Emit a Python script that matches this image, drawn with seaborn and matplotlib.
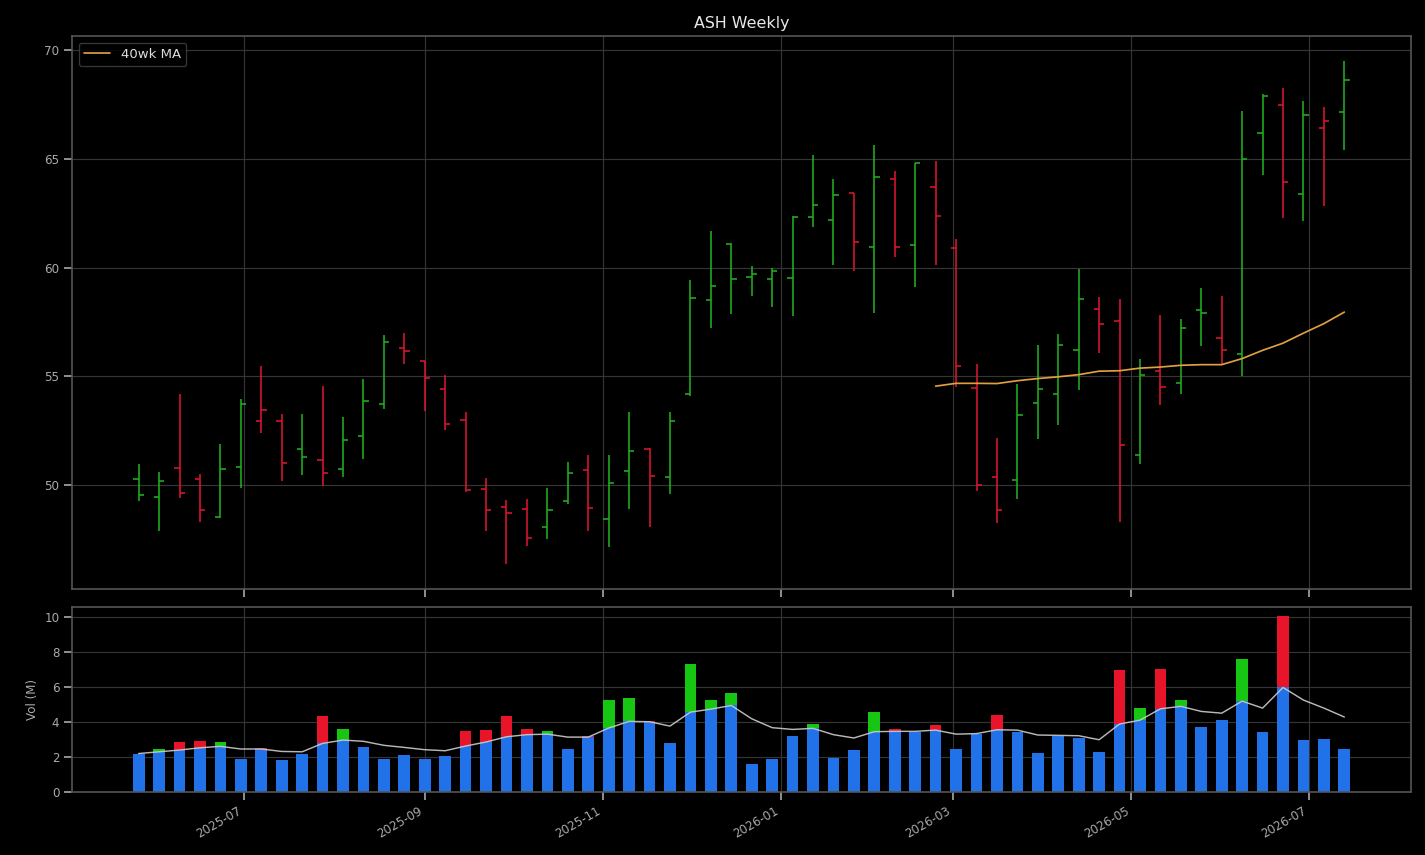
import pandas as pd
import numpy as np
import matplotlib
matplotlib.use("Agg")
import matplotlib.pyplot as plt
import matplotlib.dates as mdates
import seaborn as sns

# weekly bars, one per monday
weeks = pd.date_range("2025-05-26", periods=60, freq="7D")

opens = [50.26, 49.42, 50.77, 50.26, 48.50, 50.81, 52.93, 52.93, 51.65, 51.15,
         50.71, 52.24, 53.70, 56.30, 55.68, 54.39, 52.98, 49.80, 48.99, 48.88,
         48.04, 49.24, 50.67, 48.42, 50.63, 51.65, 50.35, 54.16, 58.51, 61.09,
         59.56, 59.48, 59.53, 62.33, 62.20, 63.43, 60.95, 64.09, 61.05, 63.71,
         60.90, 54.46, 50.35, 50.21, 53.75, 54.16, 56.21, 58.08, 57.52, 51.35,
         55.23, 54.67, 58.03, 56.78, 56.01, 66.20, 67.50, 63.38, 66.43, 67.15]
highs = [50.97, 50.61, 54.20, 50.48, 51.88, 53.97, 55.45, 53.24, 53.28, 54.53,
         53.14, 54.89, 56.88, 57.01, 55.71, 55.04, 53.33, 50.33, 49.28, 49.33,
         49.87, 51.07, 51.35, 51.35, 53.33, 51.71, 53.37, 59.42, 61.67, 61.12,
         60.06, 59.99, 62.39, 65.18, 64.07, 63.45, 65.64, 64.44, 64.83, 64.90,
         61.31, 55.55, 52.17, 54.66, 56.42, 56.96, 59.93, 58.63, 58.54, 55.81,
         57.80, 57.65, 59.04, 58.67, 67.21, 67.99, 68.26, 67.66, 67.38, 69.51]
lows = [49.24, 47.88, 49.39, 48.29, 48.45, 49.85, 52.37, 50.15, 50.43, 49.93,
        50.35, 51.18, 53.49, 55.56, 53.39, 52.52, 49.65, 47.88, 46.36, 47.17,
        47.50, 49.11, 47.88, 47.14, 48.88, 48.04, 49.57, 54.10, 57.21, 57.87,
        58.69, 58.18, 57.77, 61.87, 60.12, 59.84, 57.90, 60.49, 59.10, 60.12,
        54.49, 49.70, 48.22, 49.34, 52.11, 52.75, 54.36, 56.06, 48.27, 50.95,
        53.67, 54.18, 56.39, 55.58, 55.00, 64.27, 62.28, 62.15, 62.84, 65.42]
closes = [49.52, 50.16, 49.60, 48.83, 50.71, 53.72, 53.44, 51.02, 51.27, 50.53,
          52.06, 53.85, 56.57, 56.14, 54.91, 52.78, 49.74, 48.83, 48.68, 47.55,
          48.86, 50.53, 48.93, 50.07, 51.55, 50.40, 52.93, 58.61, 59.15, 59.48,
          59.70, 59.84, 62.33, 62.89, 63.35, 61.18, 64.17, 60.95, 64.81, 62.38,
          55.45, 49.98, 48.83, 53.19, 54.39, 56.44, 58.54, 57.39, 51.83, 55.04,
          54.49, 57.21, 57.90, 56.21, 65.00, 67.89, 63.93, 67.02, 66.74, 68.65]

# 40 week moving average (only defined for the last 21 weeks)
ma40 = [54.54, 54.67, 54.67, 54.66, 54.79, 54.89, 54.97, 55.07, 55.23, 55.25,
        55.37, 55.42, 55.50, 55.53, 55.53, 55.81, 56.19, 56.52, 56.98, 57.42,
        57.95]

# volume in millions and its moving average
volume = [2.19, 2.48, 2.88, 2.93, 2.88, 1.90, 2.51, 1.85, 2.19, 4.36,
          3.62, 2.59, 1.90, 2.13, 1.90, 2.08, 3.50, 3.56, 4.36, 3.62,
          3.50, 2.48, 3.22, 5.28, 5.39, 4.08, 2.82, 7.33, 5.28, 5.68,
          1.62, 1.90, 3.22, 3.90, 1.96, 2.42, 4.59, 3.62, 3.45, 3.85,
          2.48, 3.33, 4.42, 3.45, 2.25, 3.22, 3.10, 2.30, 6.99, 4.82,
          7.05, 5.28, 3.73, 4.13, 7.62, 3.45, 10.08, 2.99, 3.05, 2.48]
vol_ma = [2.20, 2.30, 2.40, 2.53, 2.61, 2.46, 2.46, 2.32, 2.30, 2.78,
          2.97, 2.90, 2.67, 2.55, 2.42, 2.36, 2.63, 2.86, 3.16, 3.28,
          3.31, 3.14, 3.14, 3.66, 4.04, 4.02, 3.77, 4.57, 4.74, 4.95,
          4.19, 3.68, 3.58, 3.64, 3.28, 3.09, 3.45, 3.47, 3.47, 3.54,
          3.31, 3.34, 3.56, 3.54, 3.26, 3.24, 3.22, 2.99, 3.89, 4.11,
          4.76, 4.90, 4.61, 4.51, 5.20, 4.80, 5.98, 5.26, 4.80, 4.29]

df = pd.DataFrame({"date": weeks, "open": opens, "high": highs, "low": lows,
                   "close": closes, "vol": volume, "vol_ma": vol_ma})
df["up"] = df["close"].diff().fillna(1) >= 0

sns.set_theme(style="darkgrid", rc={
    "figure.facecolor": "black",
    "axes.facecolor": "black",
    "axes.edgecolor": "#555555",
    "grid.color": "#353535",
    "grid.linewidth": 0.9,
    "text.color": "#e8e8e8",
    "axes.labelcolor": "#aaaaaa",
    "xtick.color": "#aaaaaa",
    "ytick.color": "#aaaaaa",
    "xtick.bottom": True,
    "ytick.left": True,
    "xtick.labelsize": 9,
    "ytick.labelsize": 9,
})
plt.rcParams["font.family"] = ["DejaVu Sans"]

fig = plt.figure(figsize=(15, 9), dpi=95)
gs = fig.add_gridspec(2, 1, height_ratios=[2.99, 1], hspace=0.049,
                      left=0.0505, right=0.9902, top=0.958, bottom=0.0737)
ax = fig.add_subplot(gs[0])
axv = fig.add_subplot(gs[1], sharex=ax)

green, red = "#20b020", "#dc1530"
colors = np.where(df["up"], green, red)
tick = pd.Timedelta(days=1.8)

# ohlc bars
ax.vlines(df["date"], df["low"], df["high"], colors=colors, linewidth=1.2)
ax.hlines(df["open"], df["date"] - tick, df["date"], colors=colors, linewidth=1.2)
ax.hlines(df["close"], df["date"], df["date"] + tick, colors=colors, linewidth=1.2)

sns.lineplot(x=weeks[-len(ma40):], y=ma40, ax=ax, color="#e0a040",
             linewidth=1.3, label="40wk MA")
ax.set_title("ASH Weekly", fontsize=12, color="#e8e8e8")
ax.set_xlabel("")
ax.set_ylabel("")
leg = ax.legend(loc="upper left", fontsize=10, facecolor="black",
                edgecolor="#444444", labelcolor="#dddddd")
ax.tick_params(labelbottom=False)

# volume: blue up to the average, excess colored by week direction
axv.bar(df["date"], df["vol"], width=4, color="#2171e8", linewidth=0)
excess = (df["vol"] - df["vol_ma"]).clip(lower=0)
vcolors = np.where(df["up"], "#16c612", "#e8142a")
axv.bar(df["date"], excess, bottom=df["vol_ma"], width=4, color=vcolors, linewidth=0)
sns.lineplot(x=weeks, y=vol_ma, ax=axv, color="#cccccc", linewidth=1.1, alpha=0.9)
axv.set_ylabel("Vol (M)", fontsize=9)
axv.set_xlabel("")

axv.xaxis.set_major_locator(mdates.MonthLocator(bymonth=[1, 3, 5, 7, 9, 11]))
axv.xaxis.set_major_formatter(mdates.DateFormatter("%Y-%m"))
plt.setp(axv.get_xticklabels(), rotation=30, ha="right")

fig.savefig("out.png", dpi=95, facecolor="black")
